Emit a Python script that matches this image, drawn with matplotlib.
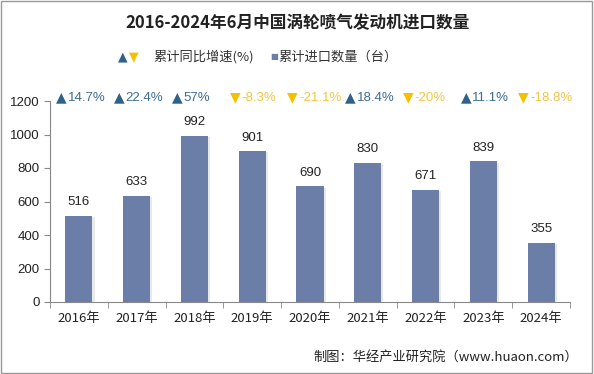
import numpy as np
import matplotlib.pyplot as plt
import matplotlib.patheffects as pe

plt.rcParams['font.family'] = ['Noto Sans CJK SC', 'DejaVu Sans']

years = ['2016年', '2017年', '2018年', '2019年', '2020年', '2021年', '2022年', '2023年', '2024年']
qty = [516, 633, 992, 901, 690, 830, 671, 839, 355]
growth = [14.7, 22.4, 57, -8.3, -21.1, 18.4, -20, 11.1, -18.8]

bar_color = '#6a7ea8'
up_color = '#2f6189'
up_text = '#3d6e91'
down_color = '#f2c200'
down_text = '#f3c544'

fig = plt.figure(figsize=(5.94, 3.74), dpi=100)
ax = fig.add_axes([50/594, 1 - 302/374, 520/594, 201/374])

x = np.arange(len(years))
bars = ax.bar(x, qty, width=0.47, color=bar_color, zorder=3,
              path_effects=[pe.SimplePatchShadow(offset=(1.5, -1), shadow_rgbFace='#c8c8c8', alpha=0.4), pe.Normal()])

for i, v in enumerate(qty):
    ax.text(x[i], v + 45, str(v), ha='center', va='bottom', fontsize=9.5, color='#222222',
            family=['Liberation Sans', 'DejaVu Sans'])

for i, g in enumerate(growth):
    if g >= 0:
        mark, c1, c2 = '▲', up_color, up_text
    else:
        mark, c1, c2 = '▼', down_color, down_text
    s = '%g%%' % g
    ax.annotate(mark, (x[i], 1220), xytext=(-12.5, 0), textcoords='offset points',
                ha='center', va='center', fontsize=10, color=c1, family=['DejaVu Sans'],
                annotation_clip=False)
    ax.annotate(s, (x[i], 1220), xytext=(-8, 0), textcoords='offset points',
                ha='left', va='center', fontsize=9.5, color=c2, family=['Liberation Sans', 'DejaVu Sans'],
                annotation_clip=False)

ax.set_xlim(-0.5, len(years) - 0.5)
ax.set_ylim(0, 1200)
ax.set_yticks(range(0, 1201, 200))
ax.set_xticks(x)
ax.set_xticklabels(years, fontsize=9.5, color='#222222')
ax.set_xticks(np.arange(-0.5, len(years), 1), minor=True)
ax.tick_params(axis='x', which='major', length=0, pad=7)
ax.tick_params(axis='x', which='minor', length=4, color='#888888', direction='out')
ax.tick_params(axis='y', labelsize=9.5, colors='#222222', length=4, color='#888888')
for lab in ax.get_yticklabels():
    lab.set_family(['Liberation Sans', 'DejaVu Sans'])
for sp in ['top', 'right']:
    ax.spines[sp].set_visible(False)
ax.spines['left'].set_color('#888888')
ax.spines['bottom'].set_color('#888888')

fig.text(0.5, 1 - 23/374, '2016-2024年6月中国涡轮喷气发动机进口数量', ha='center', va='center',
         fontsize=12, fontweight='bold', color='#222222')
fig.text(118/594, 1 - 57/374, '▲', ha='left', va='center', fontsize=9, color=up_color, family=['DejaVu Sans'])
fig.text(129/594, 1 - 57/374, '▼', ha='left', va='center', fontsize=9, color=down_color, family=['DejaVu Sans'])
fig.text(153/594, 1 - 57/374, '累计同比增速(%)', ha='left', va='center', fontsize=9.5, color='#333333')
fig.text(270/594, 1 - 57/374, '■', ha='left', va='center', fontsize=6, color=bar_color, family=['DejaVu Sans'])
fig.text(278/594, 1 - 57/374, '累计进口数量（台）', ha='left', va='center', fontsize=9.5, color='#333333')
fig.text(578/594, 1 - 357/374, '制图：华经产业研究院（www.huaon.com）', ha='right', va='center',
         fontsize=9.5, color='#222222')

fig.patches.append(plt.Rectangle((0.002, 0.003), 0.995, 0.994, transform=fig.transFigure,
                                 fill=False, edgecolor='#999999', linewidth=1))

fig.savefig('out.png', dpi=100)
